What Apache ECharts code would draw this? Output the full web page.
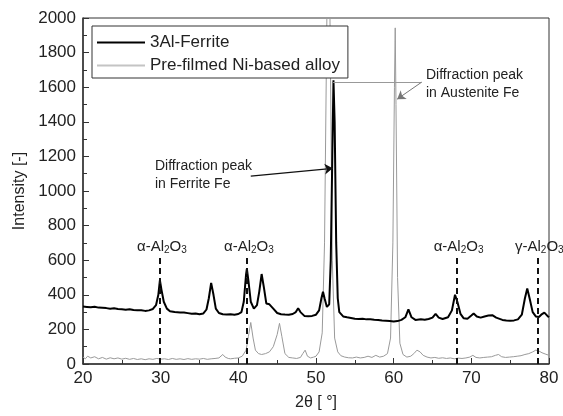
<!DOCTYPE html>
<html><head><meta charset="utf-8">
<script src="https://cdn.jsdelivr.net/npm/echarts@6/dist/echarts.min.js"></script>
<style>html,body{margin:0;padding:0;background:#fff}#c{width:563px;height:416px}</style>
</head><body><div id="c"></div>
<script>
var seriesNames = ['3Al-Ferrite', 'Pre-filmed Ni-based alloy'];
var ferrite = [[20,332],[20.5,330],[21,328],[21.5,331],[22,326],[22.5,325],[23,323],[23.5,320],[24,322],[24.5,318],[25,316],[25.5,314],[26,317],[26.5,312],[27,310],[27.5,311],[28,307],[28.5,310],[29,318],[29.4,340],[29.7,400],[29.9,484],[30.1,430],[30.4,360],[30.8,320],[31.2,305],[31.8,300],[32.5,297],[33,298],[33.5,294],[34,290],[34.5,292],[35,288],[35.5,292],[35.9,315],[36.2,380],[36.5,469],[36.8,400],[37.1,320],[37.5,295],[38,288],[38.5,286],[39,287],[39.5,285],[40,289],[40.4,300],[40.7,360],[41,520],[41.1,550],[41.3,480],[41.6,360],[42,320],[42.4,340],[42.7,420],[43,520],[43.3,440],[43.6,350],[44,345],[44.2,350],[44.5,320],[45,295],[45.5,288],[46,286],[46.5,285],[47,289],[47.4,300],[47.7,322],[48,300],[48.5,278],[49,276],[49.5,278],[50,285],[50.4,310],[50.7,380],[50.9,417],[51.1,380],[51.4,330],[51.7,345],[51.9,600],[52.1,1200],[52.25,1640],[52.4,1400],[52.6,700],[52.8,380],[53,300],[53.5,275],[54,270],[54.5,266],[55,262],[55.5,260],[56,262],[56.5,258],[57,258],[57.5,256],[58,255],[58.5,252],[59,250],[59.5,248],[60,246],[60.5,248],[61,255],[61.5,270],[61.9,316],[62.3,270],[62.8,255],[63.5,258],[64,256],[64.5,260],[65,268],[65.4,290],[65.8,268],[66.3,260],[67,270],[67.5,310],[67.9,400],[68.2,360],[68.6,290],[69,265],[69.5,262],[70,280],[70.3,292],[70.7,275],[71.2,268],[71.7,275],[72.2,280],[72.7,282],[73.2,268],[74,255],[74.5,252],[75,250],[75.5,252],[76,258],[76.5,285],[76.9,380],[77.2,436],[77.5,380],[77.9,300],[78.3,275],[78.7,272],[79,285],[79.4,297],[79.8,278],[80,270]];
var niAlloy = [[20,40],[20.3,30],[20.6,45],[21,35],[21.5,42],[22,30],[22.5,38],[23,28],[23.5,36],[24,30],[24.5,35],[25,28],[25.5,33],[26,27],[26.5,32],[27,26],[27.5,30],[28,25],[28.5,30],[29,27],[29.5,32],[30,28],[30.5,30],[31,26],[31.5,32],[32,27],[32.5,30],[33,26],[33.5,31],[34,27],[34.5,30],[35,28],[35.5,32],[36,27],[36.5,30],[37,32],[37.5,35],[38,55],[38.3,40],[38.7,32],[39,30],[39.5,33],[40,35],[40.5,45],[41,80],[41.3,160],[41.6,240],[41.9,150],[42.2,80],[42.6,60],[43,55],[43.5,60],[44,70],[44.5,100],[45,170],[45.3,235],[45.6,160],[46,60],[46.5,38],[47,35],[47.5,32],[48,38],[48.3,60],[48.6,80],[48.9,45],[49.3,35],[49.7,40],[50,45],[50.4,70],[50.8,180],[51.1,700],[51.4,2000],[51.6,2400],[51.8,2000],[52.1,600],[52.4,150],[52.8,70],[53.2,48],[53.7,40],[54.2,36],[54.7,35],[55.2,40],[55.7,35],[56.2,38],[56.7,45],[57.2,38],[57.7,50],[58.2,40],[58.7,45],[59.2,60],[59.6,150],[59.9,700],[60.1,1600],[60.2,1943],[60.3,1500],[60.5,500],[60.8,120],[61.2,55],[61.7,40],[62.2,45],[62.6,60],[63,80],[63.4,70],[63.8,50],[64.3,40],[64.8,35],[65.3,38],[65.8,33],[66.3,36],[66.8,32],[67.3,35],[67.8,30],[68.3,34],[68.8,32],[69.3,35],[69.8,40],[70.2,50],[70.6,38],[71.1,35],[71.6,38],[72.1,40],[72.6,42],[73.1,50],[73.5,55],[73.9,42],[74.4,38],[74.9,40],[75.4,42],[75.9,45],[76.4,48],[76.9,55],[77.4,60],[77.9,70],[78.3,80],[78.7,75],[79.1,65],[79.5,58],[80,50]];
var phaseX = [29.9, 41.1, 68.1, 78.5];
var phaseTop = 625;
var phaseLabels = ['{n|α-Al}{s|2}{n|O}{s|3}', '{n|α-Al}{s|2}{n|O}{s|3}', '{n|α-Al}{s|2}{n|O}{s|3}', '{n|γ-Al}{s|2}{n|O}{s|3}'];
var ferriteArrow = [[41.6, 1086], [52.15, 1131]];
var austeniteLeader = [[52.2, 1629], [63.6, 1629], [60.45, 1531]];

var chart = echarts.init(document.getElementById('c'), null, {renderer: 'canvas'});
var FONT = '"Liberation Sans", Arial, sans-serif';

var dashLines = phaseX.map(function (x) {
  return [{coord: [x, 0], symbol: 'none'}, {coord: [x, phaseTop], symbol: 'none'}];
});

chart.setOption({
  animation: false,
  backgroundColor: '#fff',
  textStyle: {fontFamily: FONT},
  grid: {left: 83, right: 14, top: 18, bottom: 48, show: true, borderColor: '#333', borderWidth: 1, backgroundColor: 'transparent'},
  legend: {
    data: [
      {name: seriesNames[0], icon: 'rect', itemStyle: {color: '#000'}},
      {name: seriesNames[1], icon: 'rect', itemStyle: {color: '#c4c4c4'}}
    ],
    orient: 'vertical', left: 92, top: 26,
    borderColor: '#333', borderWidth: 1, backgroundColor: '#fff', borderRadius: 0,
    padding: [8, 8, 4, 5], itemGap: 6, itemWidth: 48, itemHeight: 2,
    textStyle: {fontSize: 17, color: '#222', fontFamily: FONT, lineHeight: 17}, z: 10
  },
  xAxis: {
    type: 'value', min: 20, max: 80, interval: 10,
    name: '2θ [ °]', nameLocation: 'middle', nameGap: 31,
    nameTextStyle: {fontSize: 16, color: '#222'},
    axisLine: {lineStyle: {color: '#333', width: 1.5}},
    axisTick: {inside: true, length: 6, lineStyle: {color: '#333'}},
    minorTick: {show: true, splitNumber: 2, length: 4, lineStyle: {color: '#333'}},
    axisLabel: {fontSize: 17, color: '#222', margin: 6},
    splitLine: {show: false}
  },
  yAxis: {
    type: 'value', min: 0, max: 2000, interval: 200,
    name: 'Intensity [-]', nameLocation: 'middle', nameGap: 52, nameRotate: 90,
    nameTextStyle: {fontSize: 16, color: '#222'},
    axisLine: {show: true, lineStyle: {color: '#333', width: 1.5}},
    axisTick: {show: true, inside: true, length: 6, lineStyle: {color: '#333'}},
    minorTick: {show: true, splitNumber: 2, length: 4, lineStyle: {color: '#333'}},
    axisLabel: {fontSize: 17, color: '#222', margin: 7, formatter: function (v) { return String(v); }},
    splitLine: {show: false}
  },
  series: [
    {
      name: seriesNames[0], type: 'line', data: ferrite, symbol: 'none', z: 4, clip: true,
      lineStyle: {color: '#000', width: 2}, itemStyle: {color: '#000'},
      markLine: {
        silent: true, symbol: ['none', 'arrow'], symbolSize: 8,
        label: {show: false}, lineStyle: {color: '#111', width: 1.2, type: 'solid'},
        data: [
          [{coord: ferriteArrow[0], symbol: 'none'}, {coord: ferriteArrow[1], symbol: 'arrow'}],
          [{coord: austeniteLeader[0], symbol: 'none', lineStyle: {color: '#999', width: 1}}, {coord: austeniteLeader[1], symbol: 'none'}],
          [{coord: austeniteLeader[1], symbol: 'none', lineStyle: {color: '#777', width: 1}}, {coord: austeniteLeader[2], symbol: 'arrow'}]
        ]
      }
    },
    {
      name: seriesNames[1], type: 'line', data: niAlloy, symbol: 'none', z: 3, clip: true,
      lineStyle: {color: '#9a9a9a', width: 1}, itemStyle: {color: '#bbb'},
      markLine: {
        silent: true, symbol: 'none', label: {show: false},
        lineStyle: {color: '#111', width: 2, type: [6, 4]},
        data: dashLines
      }
    }
  ]
});

function addGraphics() {
  var els = [];
  phaseX.forEach(function (x, i) {
    var p = chart.convertToPixel({gridIndex: 0}, [x, phaseTop]);
    els.push({
      type: 'text', x: p[0] + 2, y: p[1] - 1, z: 20,
      style: {
        text: phaseLabels[i], align: 'center', verticalAlign: 'bottom',
        fill: '#222', font: '15px ' + FONT,
        rich: {
          n: {fontSize: 15, lineHeight: 16, verticalAlign: 'top', fill: '#222', fontFamily: FONT},
          s: {fontSize: 10, lineHeight: 10, padding: [6, 0, 0, 0], verticalAlign: 'top', fill: '#222', fontFamily: FONT}
        }
      }
    });
  });
  els.push({type: 'text', left: 155, top: 157, z: 20,
    style: {text: 'Diffraction peak\nin Ferrite Fe', fill: '#222', font: '14px ' + FONT, lineHeight: 18}});
  els.push({type: 'text', left: 426, top: 66, z: 20,
    style: {text: 'Diffraction peak\nin Austenite Fe', fill: '#222', font: '14px ' + FONT, lineHeight: 18}});
  chart.setOption({graphic: els});
}
addGraphics();
</script>
</body></html>
